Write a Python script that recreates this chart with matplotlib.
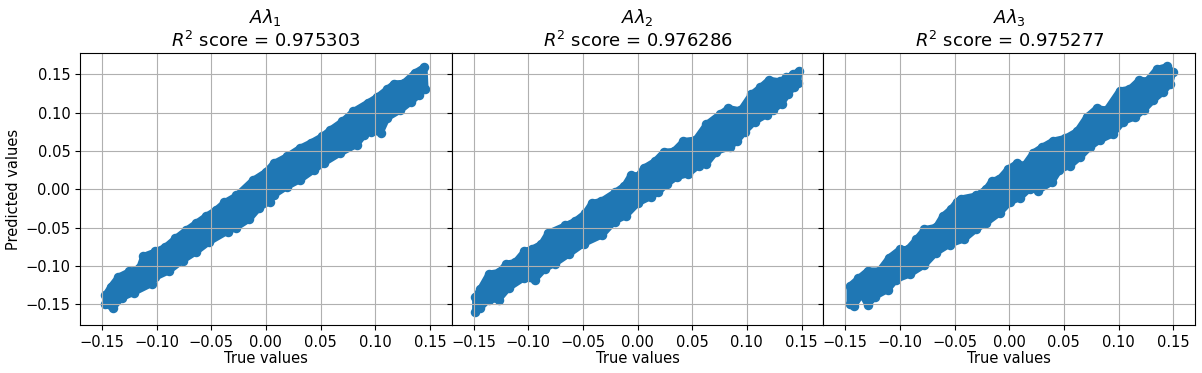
import numpy as np
import matplotlib.pyplot as plt

# Scatter envelopes: (true, predicted) points along the
# upper and lower edges of each cloud, one set per target.
titles = [r"$A\lambda_1$", r"$A\lambda_2$", r"$A\lambda_3$"]
r2_scores = [0.975303, 0.976286, 0.975277]

upper_x1 = [-0.147, -0.142, -0.135, -0.125, -0.116, -0.112, -0.101, -0.092, -0.083, -0.073,
            -0.064, -0.055, -0.046, -0.038, -0.027, -0.012, 0.000, 0.007, 0.019, 0.031,
            0.041, 0.051, 0.059, 0.070, 0.080, 0.093, 0.102, 0.111, 0.117, 0.126, 0.136, 0.145]
upper_y1 = [-0.138, -0.127, -0.114, -0.107, -0.103, -0.087, -0.081, -0.075, -0.064, -0.053,
            -0.044, -0.035, -0.027, -0.017, -0.008, 0.012, 0.023, 0.034, 0.043, 0.054,
            0.061, 0.069, 0.078, 0.089, 0.102, 0.113, 0.121, 0.131, 0.138, 0.139, 0.152, 0.160]
lower_x1 = [-0.147, -0.140, -0.132, -0.121, -0.104, -0.101, -0.089, -0.076, -0.064, -0.052,
            -0.035, -0.027, -0.015, -0.006, 0.004, 0.007, 0.019, 0.031, 0.044, 0.053,
            0.068, 0.083, 0.090, 0.096, 0.105, 0.111, 0.123, 0.133, 0.140, 0.146]
lower_y1 = [-0.150, -0.155, -0.142, -0.135, -0.123, -0.115, -0.107, -0.093, -0.082, -0.069,
            -0.055, -0.050, -0.039, -0.024, -0.016, -0.008, 0.003, 0.012, 0.025, 0.034,
            0.047, 0.058, 0.071, 0.075, 0.074, 0.093, 0.103, 0.114, 0.123, 0.131]

upper_x2 = [-0.1485, -0.144, -0.136, -0.127, -0.120, -0.112, -0.1035, -0.097, -0.088, -0.082,
            -0.066, -0.057, -0.048, -0.042, -0.033, -0.021, -0.012, -0.006, 0.0005, 0.0055,
            0.016, 0.024, 0.033, 0.042, 0.053, 0.063, 0.075, 0.083, 0.094, 0.104, 0.112,
            0.120, 0.130, 0.136, 0.142, 0.148]
upper_y2 = [-0.140, -0.130, -0.110, -0.108, -0.097, -0.095, -0.0805, -0.078, -0.071, -0.057,
            -0.047, -0.041, -0.031, -0.018, -0.015, -0.004, 0.005, 0.019, 0.018, 0.028,
            0.037, 0.049, 0.050, 0.063, 0.065, 0.085, 0.098, 0.106, 0.103, 0.124, 0.133,
            0.143, 0.141, 0.146, 0.150, 0.155]
lower_x2 = [-0.1485, -0.144, -0.136, -0.127, -0.118, -0.104, -0.094, -0.085, -0.0755, -0.063,
            -0.049, -0.0325, -0.021, -0.011, 0.0005, 0.012, 0.019, 0.027, 0.036, 0.0465,
            0.056, 0.063, 0.072, 0.0845, 0.091, 0.098, 0.107, 0.118, 0.124, 0.132, 0.138,
            0.143, 0.147]
lower_y2 = [-0.160, -0.155, -0.144, -0.144, -0.129, -0.116, -0.118, -0.104, -0.097, -0.085,
            -0.071, -0.060, -0.042, -0.035, -0.018, -0.010, -0.004, 0.007, 0.016, 0.020,
            0.031, 0.033, 0.049, 0.055, 0.063, 0.075, 0.088, 0.097, 0.103, 0.112, 0.125,
            0.133, 0.139]

upper_x3 = [-0.146, -0.138, -0.1295, -0.119, -0.110, -0.100, -0.093, -0.085, -0.0775, -0.067,
            -0.061, -0.053, -0.048, -0.044, -0.030, -0.021, -0.016, -0.009, -0.001, 0.0067,
            0.014, 0.022, 0.0296, 0.040, 0.051, 0.062, 0.071, 0.080, 0.089, 0.101, 0.110,
            0.119, 0.126, 0.135, 0.144, 0.150]
upper_y3 = [-0.126, -0.116, -0.106, -0.106, -0.089, -0.078, -0.078, -0.065, -0.052, -0.049,
            -0.035, -0.025, -0.016, -0.012, -0.008, 0.001, 0.011, 0.014, 0.027, 0.034,
            0.032, 0.048, 0.055, 0.0635, 0.067, 0.076, 0.095, 0.106, 0.104, 0.129, 0.131,
            0.143, 0.142, 0.157, 0.1605, 0.153]
lower_x3 = [-0.146, -0.142, -0.135, -0.1295, -0.1225, -0.111, -0.1035, -0.091, -0.0775, -0.067,
            -0.0545, -0.041, -0.030, -0.021, -0.0086, 0.0006, 0.010, 0.019, 0.0265, 0.039,
            0.046, 0.056, 0.065, 0.074, 0.083, 0.095, 0.104, 0.115, 0.123, 0.132, 0.141,
            0.147]
lower_y3 = [-0.150, -0.152, -0.137, -0.151, -0.140, -0.131, -0.118, -0.111, -0.099, -0.083,
            -0.072, -0.065, -0.052, -0.044, -0.031, -0.017, -0.011, 0.001, -0.002, 0.009,
            0.025, 0.031, 0.042, 0.055, 0.064, 0.072, 0.088, 0.094, 0.103, 0.1165, 0.127,
            0.137]

panels = [
    (upper_x1, upper_y1, lower_x1, lower_y1),
    (upper_x2, upper_y2, lower_x2, lower_y2),
    (upper_x3, upper_y3, lower_x3, lower_y3),
]

fig, axes = plt.subplots(1, 3, figsize=(12.02, 3.73), dpi=100, sharey=True)
plt.subplots_adjust(left=0.0666, right=0.9942, top=0.858, bottom=0.1287, wspace=0)

for i, ax in enumerate(axes):
    ux, uy, lx, ly = panels[i]
    # dense core of the cloud (edge width ~ one marker so it reaches the outer dots)
    ax.fill(ux + lx[::-1], uy + ly[::-1], facecolor="#1f77b4", edgecolor="#1f77b4",
            lw=4.5, joinstyle="round")
    ax.scatter(ux + lx, uy + ly, color="#1f77b4", s=34)
    ax.set_xlim(-0.17, 0.17)
    ax.set_ylim(-0.177, 0.178)
    ax.set_xticks([-0.15, -0.10, -0.05, 0.0, 0.05, 0.10, 0.15])
    ax.set_yticks([-0.15, -0.10, -0.05, 0.0, 0.05, 0.10, 0.15])
    ax.grid(True)
    ax.tick_params(labelsize=10.5)
    ax.set_xlabel("True values", fontsize=10.5, labelpad=1)
    ax.set_title(titles[i] + "\n" + "$R^2$ score = %.6f" % r2_scores[i], fontsize=13, pad=4)

axes[0].set_ylabel("Predicted values", fontsize=10.5, labelpad=3)

plt.savefig("out.png")
